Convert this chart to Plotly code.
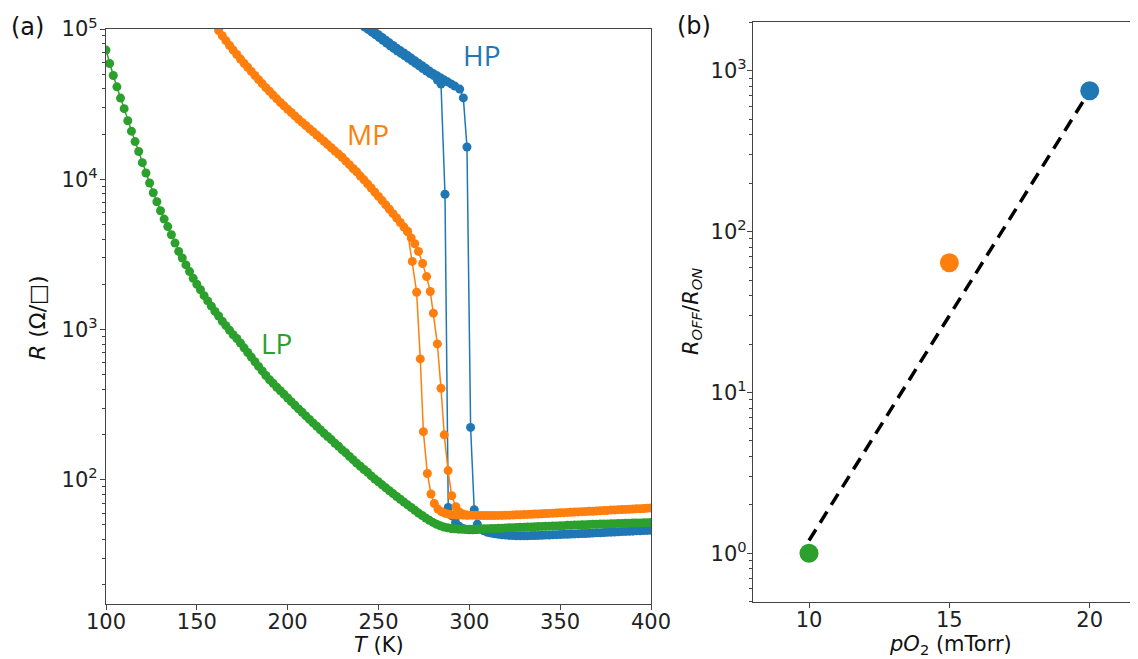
import math
import plotly.graph_objects as go

# ---------------- panel (a) data: sheet resistance vs temperature ----------------
LP_T = [100, 102, 104, 106, 108, 110, 112, 114, 116, 118, 120, 122, 124, 126, 128, 130, 132, 134, 136, 138,
        140, 142, 144, 146, 148, 150, 152, 154, 156, 158, 160, 162, 164, 166, 168, 170, 172, 174, 176, 178,
        180, 182, 184, 186, 188, 190, 192, 194, 196, 198, 200, 202, 204, 206, 208, 210, 212, 214, 216, 218,
        220, 222, 224, 226, 228, 230, 232, 234, 236, 238, 240, 242, 244, 246, 248, 250, 252, 254, 256, 258,
        260, 262, 264, 266, 268, 270, 272, 274, 276, 278, 280, 282, 284, 286, 288, 290, 292, 294, 296, 298,
        300, 302, 304, 306, 308, 310, 312, 314, 316, 318, 320, 322, 324, 326, 328, 330, 332, 334, 336, 338,
        340, 342, 344, 346, 348, 350, 352, 354, 356, 358, 360, 362, 364, 366, 368, 370, 372, 374, 376, 378,
        380, 382, 384, 386, 388, 390, 392, 394, 396, 398, 400]
LP_R = [72400, 58900, 49000, 41200, 34700, 29500, 24500, 20900, 17800, 15300, 12900, 11000, 9440, 8130, 7080, 6170, 5430, 4840, 4270, 3760,
        3310, 2990, 2690, 2430, 2190, 2000, 1840, 1680, 1550, 1430, 1320, 1230, 1135, 1060, 989, 923, 871, 813, 755, 703,
        655, 610, 568, 530, 494, 463, 438, 413, 391, 370, 350, 331, 313, 296, 281, 266, 252, 239, 227, 215,
        204, 194, 185, 175, 167, 158, 151, 143, 136, 129, 123, 117, 112, 106, 101, 96.8, 92.5, 88.3, 84.5, 80.9,
        77.4, 74.1, 71.0, 68.1, 65.3, 62.7, 60.1, 57.8, 55.6, 53.7, 52.0, 50.6, 49.4, 48.5, 47.9, 47.4, 47.1, 46.9, 46.8, 46.8,
        46.8, 46.8, 46.9, 47.0, 47.1, 47.2, 47.3, 47.4, 47.5, 47.6, 47.8, 47.9, 48.0, 48.1, 48.2, 48.3, 48.4, 48.5, 48.6, 48.8,
        48.9, 49.0, 49.1, 49.2, 49.3, 49.4, 49.5, 49.7, 49.8, 49.9, 50.0, 50.1, 50.2, 50.4, 50.5, 50.6, 50.7, 50.8, 50.8, 50.9,
        51.0, 51.2, 51.2, 51.3, 51.4, 51.5, 51.5, 51.6, 51.7, 51.7, 51.9]

# MP: warming branch (full) and cooling branch (transition region)
MP_T_warm = [162, 164, 166, 168, 170, 172, 174, 176, 178, 180, 182, 184, 186, 188, 190, 192, 194, 196, 198, 200,
             202, 204, 206, 208, 210, 212, 214, 216, 218, 220, 222, 224, 226, 228, 230, 232, 234, 236, 238, 240,
             242, 244, 246, 248, 250, 252, 254, 256, 258, 260, 262, 264, 266, 268, 270, 272,
             274.3, 276.5, 278.5, 280.2, 282.4, 284.4, 286.2, 288.3, 290.3, 292.6, 294.5, 296.5, 298.5,
             300, 302, 304, 306, 308, 310, 312, 314, 316, 318, 320, 322, 324, 326, 328, 330, 332, 334, 336, 338,
             340, 342, 344, 346, 348, 350, 352, 354, 356, 358, 360, 362, 364, 366, 368, 370, 372, 374, 376, 378,
             380, 382, 384, 386, 388, 390, 392, 394, 396, 398, 400]
MP_R_warm = [97700, 90200, 83600, 77600, 72400, 67600, 63100, 59200, 55600, 52200, 49000, 46000, 43300, 40700, 38500, 36300, 34300, 32400, 30800, 29200,
             27800, 26400, 25100, 23900, 22800, 21700, 20700, 19700, 18800, 17900, 17000, 16200, 15400, 14700, 14000, 13200, 12500, 11800, 11200, 10500,
             9910, 9310, 8750, 8200, 7690, 7210, 6750, 6310, 5900, 5520, 5150, 4810, 4490, 4070, 3720, 3310,
             2750, 2250, 1790, 1285, 802, 406, 199, 115, 78.2, 66.1, 61.0, 59.2, 58.3,
             58.1, 58.0, 57.9, 57.8, 57.8, 57.8, 57.8, 57.8, 57.9, 57.9, 58.0, 58.1, 58.3, 58.4, 58.5, 58.6, 58.8, 58.9, 59.1, 59.2,
             59.4, 59.6, 59.7, 59.9, 60.1, 60.3, 60.4, 60.6, 60.8, 60.9, 61.1, 61.3, 61.4, 61.6, 61.7, 61.9, 62.1, 62.3, 62.5, 62.8,
             63.0, 63.2, 63.3, 63.5, 63.6, 63.8, 64.0, 64.2, 64.4, 64.7, 64.9]
MP_T_cool = [266, 268.6, 271, 273, 274.7, 276.9, 278.9, 280.7, 282.7, 284.7, 286.7, 288.7, 290.7, 292.7, 294.7, 296.7, 298.7]
MP_R_cool = [4490, 2840, 1770, 637, 209, 110, 80.4, 69.5, 63.8, 61.2, 59.8, 59.0, 58.5, 58.3, 58.2, 58.1, 58.1]

# HP: warming branch (full) and cooling branch
HP_T_warm = [244, 246, 248, 250, 252, 254, 256, 258, 260, 262, 264, 266, 268, 270, 272, 274, 276, 278, 280, 282,
             284, 286, 288, 290, 292,
             294.7, 296.7, 298.7, 300.7, 302.7, 304.4,
             306, 308, 310, 312, 314, 316, 318, 320, 322, 324, 326, 328, 330, 332, 334, 336, 338, 340, 342, 344,
             346, 348, 350, 352, 354, 356, 358, 360, 362, 364, 366, 368, 370, 372, 374, 376, 378, 380, 382, 384,
             386, 388, 390, 392, 394, 396, 398, 400]
HP_R_warm = [103500, 99500, 95500, 91600, 87900, 84300, 80900, 77600, 74500, 71800, 69200, 66500, 64000, 61500, 59200, 56900, 54700, 52600, 50600, 49000,
             47400, 45900, 44500, 43100, 41700,
             39800, 34800, 16400, 223, 63.1, 50.7,
             47.0, 45.7, 44.7, 44.2, 43.7, 43.3, 43.0, 42.8, 42.6, 42.5, 42.4, 42.4, 42.4, 42.4, 42.5, 42.5, 42.6, 42.7, 42.8, 42.9,
             43.0, 43.1, 43.2, 43.3, 43.4, 43.5, 43.6, 43.7, 43.8, 43.9, 44.0, 44.2, 44.3, 44.4, 44.5, 44.7, 44.8, 44.9, 45.0, 45.2,
             45.3, 45.4, 45.5, 45.7, 45.8, 45.9, 46.0, 46.1]
HP_T_cool = [306, 304, 302, 300, 298, 296.4, 294.4, 292.4, 290.4, 288.4, 286.6, 284.4, 282.4, 280.4,
             278.4, 276.4, 274.4, 272.4, 270.4, 268.4, 266.4, 264.4, 262.4, 260.4, 258.4, 256.4, 254.4, 252.4,
             250.4, 248.4, 246.4, 244.4, 242.4]
HP_R_cool = [47.0, 46.6, 46.4, 46.5, 46.8, 47.3, 49.0, 52.0, 57.5, 65.3, 7940, 43000, 45700, 49000,
             50500, 52500, 54600, 56800, 59000, 61400, 63800, 66400, 68900, 71400, 74300, 77400, 80700, 84100,
             87700, 91400, 95300, 99100, 103000]

SAMPLE_LABELS = ["HP", "MP", "LP"]
LABEL_T = [307, 244, 194]
LABEL_R = [67000, 20000, 810]

# ---------------- panel (b) data: R_OFF/R_ON vs oxygen pressure ----------------
PO2 = [10, 15, 20]
RATIO = [1.0, 64, 750]
FIT_PO2 = [10, 20]
FIT_RATIO = [1.2, 750]

# ticks
A_XTICKS = [100, 150, 200, 250, 300, 350, 400]
A_YTICKS = [100, 1000, 10000, 100000]
A_YTICKTEXT = ["10<sup>2</sup>", "10<sup>3</sup>", "10<sup>4</sup>", "10<sup>5</sup>"]
A_YMINOR = [20, 30, 40, 50, 60, 70, 80, 90, 200, 300, 400, 500, 600, 700, 800, 900,
            2000, 3000, 4000, 5000, 6000, 7000, 8000, 9000, 20000, 30000, 40000, 50000, 60000, 70000, 80000, 90000]
B_XTICKS = [10, 15, 20]
B_YTICKS = [1, 10, 100, 1000]
B_YTICKTEXT = ["10<sup>0</sup>", "10<sup>1</sup>", "10<sup>2</sup>", "10<sup>3</sup>"]
B_YMINOR = [0.5, 0.6, 0.7, 0.8, 0.9, 2, 3, 4, 5, 6, 7, 8, 9, 20, 30, 40, 50, 60, 70, 80, 90,
            200, 300, 400, 500, 600, 700, 800, 900, 2000]

BLUE, ORANGE, GREEN = "#1f77b4", "#ff7f0e", "#2ca02c"
FONT = "DejaVu Sans"
W, H = 1138, 659
OFF = 8  # page body margin in the browser

fig = go.Figure()

def curve(T, R, color):
    fig.add_trace(go.Scatter(x=T, y=R, mode="lines+markers", xaxis="x", yaxis="y",
                             line=dict(color=color, width=1.5),
                             marker=dict(color=color, size=9),
                             showlegend=False, hoverinfo="skip"))

curve(HP_T_warm, HP_R_warm, BLUE)
curve(HP_T_cool, HP_R_cool, BLUE)
curve(MP_T_warm, MP_R_warm, ORANGE)
curve(MP_T_cool, MP_R_cool, ORANGE)
curve(LP_T, LP_R, GREEN)

# panel (b)
fig.add_trace(go.Scatter(x=FIT_PO2, y=FIT_RATIO, mode="lines", xaxis="x2", yaxis="y2",
                         line=dict(color="black", width=3.5, dash="13px,8px"),
                         showlegend=False, hoverinfo="skip"))
fig.add_trace(go.Scatter(x=PO2, y=RATIO, mode="markers", xaxis="x2", yaxis="y2",
                         marker=dict(color=[GREEN, ORANGE, BLUE], size=19),
                         showlegend=False, hoverinfo="skip"))

axis_common = dict(showgrid=False, zeroline=False, showline=True, linecolor="#444", linewidth=1.2,
                   ticks="outside", ticklen=5, tickwidth=1.1, tickcolor="#444", automargin=False,
                   tickfont=dict(family=FONT, size=21, color="#222"))

def px_x(p):
    return (p - OFF) / W

def px_y(p):
    return 1 - (p - OFF) / H

fig.update_layout(
    width=W, height=H, margin=dict(l=0, r=0, t=0, b=0, autoexpand=False),
    paper_bgcolor="white", plot_bgcolor="white",
    xaxis=dict(domain=[px_x(106), px_x(651)], range=[100, 400], tickvals=A_XTICKS,
               anchor="y", mirror=True, ticklabelstandoff=-6, **axis_common),
    yaxis=dict(domain=[px_y(604), px_y(29)], type="log", range=[1.173, 5.0],
               tickvals=A_YTICKS, ticktext=A_YTICKTEXT, anchor="x", mirror=True,
               ticklabelstandoff=-2,
               minor=dict(tickvals=A_YMINOR, ticks="outside", ticklen=2.5, tickcolor="#444"),
               **axis_common),
    xaxis2=dict(domain=[px_x(753), px_x(1138)], range=[8.005, 21.72], tickvals=B_XTICKS,
                anchor="y2", mirror=True, ticklabelstandoff=-6, **axis_common),
    yaxis2=dict(domain=[px_y(602), px_y(22)], type="log", range=[-0.303, 3.303],
                tickvals=B_YTICKS, ticktext=B_YTICKTEXT, anchor="x2", mirror=False,
                ticklabelstandoff=-4,
                minor=dict(tickvals=B_YMINOR, ticks="outside", ticklen=2.5, tickcolor="#444"),
                **axis_common),
)

# sample labels in panel (a)
for lab, t, r, c in zip(SAMPLE_LABELS, LABEL_T, LABEL_R, [BLUE, ORANGE, GREEN]):
    fig.add_annotation(x=t, y=math.log10(r), xref="x", yref="y", text=lab,
                       xanchor="center", yanchor="middle",
                       showarrow=False, font=dict(family="Open Sans", size=28, color=c))

# panel letters and axis titles
def ann(text, x, y, size=21, angle=0):
    fig.add_annotation(x=px_x(x), y=px_y(y), xref="paper", yref="paper", text=text,
                       xanchor="center", yanchor="middle",
                       showarrow=False, textangle=angle,
                       font=dict(family=FONT, size=size, color="#111"))

ann("(a)", 27, 27, 24)
ann("(b)", 694, 26, 24)
ann("<i>T</i> (K)", 379, 645, 21)
ann("<i>R</i> (Ω/□)", 38, 318, 22, -90)
ann("<i>p</i><i>O</i><sub>2</sub> (mTorr)", 950, 645, 21)
ann("<i>R</i><sub><i>OFF</i></sub>/<i>R</i><sub><i>ON</i></sub>", 692, 312, 21, -90)

fig.write_html("out.html")
